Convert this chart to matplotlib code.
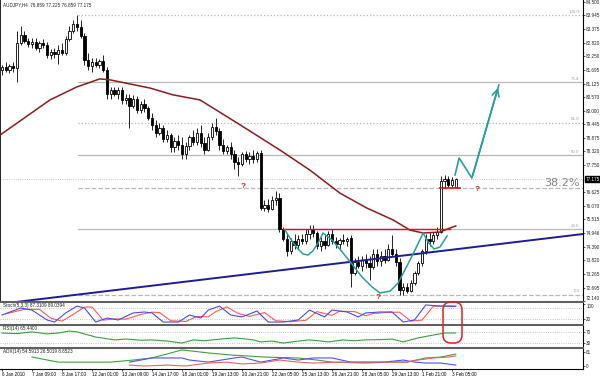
import matplotlib
matplotlib.use("Agg")
import matplotlib.pyplot as plt
from matplotlib.patches import FancyBboxPatch
from matplotlib.transforms import IdentityTransform, blended_transform_factory
import numpy as np

plt.rcParams["font.family"] = ["Liberation Sans", "DejaVu Sans"]

# AUDJPY H4, bar 0 = 6 Jan 2010
opens = [81.70, 81.80, 81.70, 81.85, 81.75, 82.80, 83.15, 82.90, 82.75, 82.85,
         82.60, 82.80, 82.70, 82.30, 82.45, 82.35, 82.50, 82.40, 82.95, 83.30,
         83.60, 83.45, 83.10, 82.10, 81.85, 82.00, 81.90, 82.05, 81.70, 80.70,
         80.85, 80.70, 80.85, 80.45, 80.55, 80.20, 80.50, 80.05, 80.30, 80.10,
         79.70, 79.40, 79.10, 79.30, 78.85, 79.00, 78.50, 78.75, 78.60, 78.20,
         78.55, 78.90, 78.70, 79.10, 78.65, 78.40, 78.90, 79.35, 79.15, 78.60,
         78.35, 78.50, 78.20, 77.90, 77.80, 78.20, 78.00, 78.15, 78.00, 78.25,
         76.00, 76.10, 75.95, 76.30, 76.40, 75.10, 74.70, 74.20, 74.60, 74.45,
         74.70, 74.60, 74.90, 75.10, 74.95, 74.40, 74.60, 74.45, 74.90, 74.60,
         74.50, 74.65, 74.60, 74.75, 73.30, 73.75, 73.60, 73.85, 73.70, 73.55,
         74.10, 73.80, 74.00, 73.85, 74.30, 74.10, 73.75, 72.60, 72.70, 72.55,
         72.90, 73.30, 73.70, 74.20, 74.70, 74.60, 74.85, 75.00, 77.10, 77.20,
         76.95, 76.859]
highs = [81.90, 82.00, 81.95, 82.00, 83.30, 83.50, 83.30, 83.00, 83.00, 83.00,
         82.90, 82.95, 82.85, 82.55, 82.60, 82.70, 82.80, 83.10, 83.50, 83.75,
         83.945, 83.75, 83.20, 82.40, 82.20, 82.20, 82.15, 82.30, 81.80, 81.00,
         81.00, 81.00, 81.00, 80.70, 80.70, 80.65, 80.60, 80.40, 80.50, 80.20,
         79.90, 79.60, 79.50, 79.40, 79.20, 79.10, 78.90, 79.00, 78.90, 78.70,
         79.00, 79.20, 79.30, 79.40, 78.90, 79.10, 79.50, 79.70, 79.30, 78.85,
         78.60, 78.70, 78.40, 78.10, 78.30, 78.35, 78.30, 78.40, 78.35, 78.40,
         76.30, 76.35, 76.50, 76.70, 76.60, 75.20, 74.90, 74.75, 74.90, 74.85,
         74.90, 75.10, 75.30, 75.30, 75.05, 74.80, 74.85, 75.05, 75.10, 74.80,
         74.75, 74.90, 74.80, 74.85, 73.90, 74.00, 74.00, 74.10, 74.00, 74.30,
         74.30, 74.20, 74.30, 74.50, 74.85, 74.30, 73.90, 72.90, 72.90, 73.00,
         73.40, 73.80, 74.30, 74.90, 75.00, 75.00, 75.20, 77.30, 77.35, 77.30,
         77.25, 77.225]
lows = [81.50, 81.60, 81.55, 81.60, 81.20, 82.70, 82.80, 82.65, 82.60, 82.50,
        82.45, 82.60, 82.20, 82.15, 82.20, 81.95, 82.30, 82.30, 82.90, 83.20,
        83.30, 83.00, 81.90, 81.70, 81.60, 81.80, 81.75, 81.60, 80.50, 80.50,
        80.60, 80.50, 80.30, 80.30, 79.30, 80.10, 79.90, 79.90, 79.95, 79.60,
        79.20, 78.90, 79.00, 78.70, 78.70, 78.30, 78.30, 78.40, 78.00, 78.00,
        78.40, 78.60, 78.60, 78.50, 78.20, 78.35, 78.80, 79.00, 78.40, 78.20,
        78.20, 78.00, 77.60, 77.30, 77.70, 77.90, 77.80, 77.85, 77.90, 75.90,
        75.85, 75.80, 75.90, 76.10, 75.00, 74.60, 74.00, 74.10, 74.30, 74.30,
        74.50, 74.50, 74.70, 74.80, 74.30, 74.20, 74.30, 74.40, 74.50, 74.35,
        74.30, 74.50, 74.40, 72.70, 73.20, 73.50, 73.40, 73.50, 73.00, 73.45,
        73.60, 73.60, 73.70, 73.80, 74.00, 73.60, 72.40, 72.40, 72.45, 72.50,
        72.80, 73.20, 73.60, 74.10, 74.40, 74.50, 74.70, 74.95, 76.80, 76.85,
        76.85, 76.859]
closes = [81.80, 81.70, 81.85, 81.75, 82.80, 83.15, 82.90, 82.75, 82.85, 82.60,
          82.80, 82.70, 82.30, 82.45, 82.35, 82.50, 82.40, 82.95, 83.30, 83.60,
          83.45, 83.10, 82.10, 81.85, 82.00, 81.90, 82.05, 81.70, 80.70, 80.85,
          80.70, 80.85, 80.45, 80.55, 80.20, 80.50, 80.05, 80.30, 80.10, 79.70,
          79.40, 79.10, 79.30, 78.85, 79.00, 78.50, 78.75, 78.60, 78.20, 78.55,
          78.90, 78.70, 79.10, 78.65, 78.40, 78.90, 79.35, 79.15, 78.60, 78.35,
          78.50, 78.20, 77.90, 77.80, 78.20, 78.00, 78.15, 78.00, 78.25, 76.00,
          76.10, 75.95, 76.30, 76.40, 75.10, 74.70, 74.20, 74.60, 74.45, 74.70,
          74.60, 74.90, 75.10, 74.95, 74.40, 74.60, 74.45, 74.90, 74.60, 74.50,
          74.65, 74.60, 74.70, 73.30, 73.75, 73.60, 73.85, 73.70, 73.55, 74.10,
          73.80, 74.00, 73.85, 74.30, 74.10, 73.75, 72.60, 72.70, 72.55, 72.90,
          73.30, 73.70, 74.20, 74.70, 74.60, 74.85, 75.00, 77.10, 77.20, 76.95,
          77.15, 77.175]

# moving average (drawn points: bar index, price)
ma_x = [-0.5, 12.8, 20.0, 26.1, 28.8, 39.5, 45.6, 52.8, 63.5, 74.1, 82.1, 90.1,
        97.3, 104.3, 108.8, 112.3, 116.8, 119.5, 121.0]
ma_y = [79.00, 80.45, 80.99, 81.32, 81.28, 80.94, 80.66, 80.45, 79.42, 78.38,
        77.55, 76.60, 75.98, 75.49, 75.07, 74.95, 74.99, 75.16, 75.24]

# support trendline and neckline
trend_x = [-0.5, 155.0]
trend_y = [72.02, 74.91]
neck_x = [74.9, 119.5]
neck_y = [75.11, 75.11]
short_x = [116.8, 122.1]
short_y = [76.81, 76.81]

# cup shapes and projected path
cup_x = [75.5, 76.8, 78.7, 80.3, 81.6, 82.9, 84.3, 85.6, 88.0, 90.7, 93.3, 96.0,
         98.7, 100.8, 103.5, 105.6, 107.7, 109.9, 112.3, 113.6, 115.2, 116.8, 118.7]
cup_y = [75.07, 74.74, 74.33, 74.08, 74.04, 74.21, 74.54, 74.95, 74.66, 74.17,
         73.67, 73.13, 72.72, 72.47, 72.55, 72.88, 73.50, 74.17, 74.95, 74.58,
         74.29, 74.37, 74.83]
path_x = [120.8, 121.9, 125.3, 132.5]
path_y = [77.35, 78.05, 77.22, 81.07]

# fibonacci retracement
fib_names = ["100.0", "76.4", "61.8", "50.0", "38.2", "23.6", "0.0"]
fib_prices = [83.945, 81.19, 79.51, 78.17, 76.80, 75.11, 72.40]
fib_styles = [":", "-", ":", "-", "--", "-", "--"]

qmarks_x = [64.3, 100.3, 126.7]
qmarks_y = [76.89, 72.30, 76.73]

price_ticks = [84.500, 83.945, 83.375, 82.820, 82.250, 81.695, 81.125, 80.570,
               80.000, 79.445, 78.875, 78.320, 77.750, 76.625, 76.070, 75.515,
               74.946, 74.390, 73.820, 73.265, 72.695, 72.140]
bid = 77.175

# stochastic
st_main_x = [0, 5, 8, 12, 14, 17, 20, 22, 25, 28, 31, 35, 38, 40, 43, 47, 50, 53, 55, 58,
             61, 64, 68, 71, 75, 79, 82, 86, 88, 92, 95, 97, 101, 104, 107, 110, 113, 117, 121]
st_main = [42, 79, 68, 16, 5, 53, 89, 79, 5, 26, 16, 53, 58, 53, 5, 5, 42, 26, 68, 89,
           42, 32, 63, 5, 5, 16, 68, 32, 68, 58, 32, 53, 58, 58, 5, 16, 95, 89, 87]
st_sig_x = [1, 6, 10, 13, 16, 19, 22, 24, 27, 30, 33, 37, 40, 42, 45, 49, 52, 55, 57, 60,
            63, 66, 70, 73, 77, 81, 84, 88, 90, 94, 97, 99, 103, 106, 109, 112, 115, 119, 121]
st_sig = [48, 72, 72, 25, 10, 45, 84, 84, 15, 22, 20, 45, 57, 55, 12, 8, 35, 32, 60, 85,
          50, 35, 55, 12, 7, 14, 60, 40, 62, 60, 38, 50, 56, 57, 10, 15, 88, 90, 89]

# rsi
rsi_x = [0, 4, 8, 12, 15, 18, 20, 25, 28, 30, 33, 37, 40, 44, 48, 51, 54, 56, 60, 62,
         65, 67, 69, 72, 75, 79, 82, 85, 87, 91, 94, 97, 101, 104, 107, 111, 115, 118, 121]
rsi = [65, 63, 69, 62, 65, 72, 69, 51, 45, 41, 44, 40, 41, 37, 30, 41, 38, 41, 46, 48,
       44, 41, 34, 37, 30, 37, 41, 37, 34, 41, 38, 41, 42, 44, 34, 48, 58, 65, 65]

# adx, +di, -di
adx_x = [8, 15, 29, 35, 40, 48, 55, 61, 70, 79, 84, 88, 97, 104, 108, 113, 117, 121]
adx = [39, 17, 17, 26, 35, 70, 57, 48, 39, 35, 26, 17, 13, 17, 17, 35, 39, 52]
pdi_x = [34, 40, 48, 50, 55, 62, 64, 69, 75, 79, 83, 88, 93, 102, 107, 110, 113, 117, 121]
pdi = [17, 35, 35, 26, 17, 35, 39, 17, 35, 26, 35, 35, 17, 17, 26, 17, 13, 13, 4]
mdi_x = [34, 38, 44, 49, 55, 60, 64, 69, 74, 79, 83, 90, 97, 104, 108, 111, 115, 119, 121]
mdi = [4, 0, 4, 0, 13, 17, 9, 13, 26, 17, 13, 17, 17, 17, 17, 26, 35, 39, 44]

time_pos = [0, 8, 16, 24, 32, 40, 48, 56, 64, 72, 80, 88, 96, 104, 112, 120]
time_labels = ["6 Jan 2010", "7 Jan 09:00", "8 Jan 17:00", "12 Jan 01:00", "13 Jan 09:00",
               "14 Jan 17:00", "18 Jan 01:00", "19 Jan 13:00", "20 Jan 21:00", "22 Jan 05:00",
               "25 Jan 13:00", "26 Jan 21:00", "28 Jan 05:00", "29 Jan 13:00",
               "1 Feb 21:00", "3 Feb 05:00"]

W, H = 600, 376
fig = plt.figure(figsize=(6, 3.76), dpi=100)
fig.patch.set_facecolor("white")


def box(top, bottom, left=0, right=583):
    return [left / W, 1 - bottom / H, (right - left) / W, (bottom - top) / H]


ax = fig.add_axes(box(0, 301))
ax_st = fig.add_axes(box(302, 323.5), sharex=ax)
ax_rsi = fig.add_axes(box(325, 346.5), sharex=ax)
ax_adx = fig.add_axes(box(348, 369), sharex=ax)
axes = [ax, ax_st, ax_rsi, ax_adx]

fs = 3.3
for a in axes:
    a.set_facecolor("white")
    a.yaxis.tick_right()
    a.tick_params(axis="y", direction="out", length=1.5, width=0.5, labelsize=fs, pad=0.8, colors="#202020")
    a.tick_params(axis="x", bottom=False, labelbottom=False)
    for s in ["left", "top", "bottom"]:
        a.spines[s].set_visible(False)
    a.spines["right"].set_linewidth(0.8)
for a in [ax_st, ax_rsi, ax_adx]:
    a.spines["top"].set_visible(True)
    a.spines["top"].set_color("#606060")
    a.spines["top"].set_linewidth(1.5)
ax_adx.spines["bottom"].set_visible(True)
ax_adx.spines["bottom"].set_linewidth(0.8)
ax.spines["left"].set_visible(True)
ax.spines["left"].set_linewidth(0.6)

ax.set_xlim(-0.53, 154.93)
ax.set_ylim(72.14, 84.58)

# candles
o = np.array(opens)
c = np.array(closes)
idx = np.arange(len(c))
up = c >= o
ax.vlines(idx, lows, highs, color="black", lw=0.6, zorder=4)
ax.bar(idx[up], (c - o)[up], bottom=o[up], width=0.6, color="white", edgecolor="black", lw=0.6, zorder=5)
ax.bar(idx[~up], (o - c)[~up], bottom=c[~up], width=0.6, color="black", edgecolor="black", lw=0.6, zorder=5)

# fib levels
for name, p, ls in zip(fib_names, fib_prices, fib_styles):
    ax.plot([20.3, 155], [p, p], color="#b8b8b8", lw=0.9, ls=ls, zorder=1)
    if name != "38.2":
        ax.text(154, p + 0.05, name, fontsize=3.2, color="#a0a0a0", ha="right", va="bottom", zorder=2)
ax.text(154, 77.02, "38.2%", fontsize=8, color="#808080", ha="right", va="center", zorder=6,
        family="DejaVu Sans")

# bid line
ax.axhline(bid, color="#b0b0b0", lw=0.6, ls=":", zorder=1)

ax.plot(ma_x, ma_y, color="#8b1c1c", lw=1.1, zorder=6)
ax.plot(trend_x, trend_y, color="#1c1c96", lw=1.4, zorder=6)
ax.plot(neck_x, neck_y, color="#e01010", lw=1.0, zorder=6)
ax.plot(short_x, short_y, color="#e01010", lw=1.2, zorder=6)
ax.plot(cup_x, cup_y, color="#2a9d9d", lw=1.1, zorder=7)
ax.plot(path_x, path_y, color="#2a9d9d", lw=1.2, zorder=7)
ax.annotate("", xy=(path_x[-1], path_y[-1]), xytext=(path_x[-2], path_y[-2]),
            arrowprops=dict(arrowstyle="->,head_length=0.5,head_width=0.25", color="#2a9d9d", lw=1.2),
            zorder=7)
for qx, qy in zip(qmarks_x, qmarks_y):
    ax.text(qx, qy, "?", color="#e02020", fontsize=6, fontweight="bold", ha="center", va="center", zorder=8)

ax.set_yticks(price_ticks)
ax.set_yticklabels(["%.3f" % t for t in price_ticks])
ax.get_yticklabels()[-1].set_va("bottom")
tr = blended_transform_factory(ax.transAxes, ax.transData)
ax.text(1.004, bid, "%.3f" % bid, transform=tr, fontsize=fs, color="white", ha="left", va="center",
        bbox=dict(boxstyle="square,pad=0.15", fc="black", ec="black"), clip_on=False, zorder=9)
ax.text(0.005, 0.994, "AUDJPY,H4  76.859 77.225 76.859 77.175", transform=ax.transAxes,
        fontsize=fs, ha="left", va="top", color="#202020")

# stochastic panel
ax_st.set_ylim(-2.6, 110.5)
for lv in [80, 20]:
    ax_st.axhline(lv, color="#b0b0b0", lw=0.6, ls=":")
ax_st.plot(st_sig_x, st_sig, color="#ff5a5a", lw=0.8)
ax_st.plot(st_main_x, st_main, color="#4a4ae6", lw=0.8)
ax_st.set_yticks([100, 20])
ax_st.set_yticklabels(["100", "20"])
ax_st.get_yticklabels()[0].set_va("top")
ax_st.text(0.005, 0.97, "Stoch(5,3,3) 87.3109 89.0394", transform=ax_st.transAxes,
           fontsize=fs, ha="left", va="top", color="#202020")

# rsi panel
ax_rsi.set_ylim(18, 93)
for lv in [70, 30]:
    ax_rsi.axhline(lv, color="#b0b0b0", lw=0.6, ls=":")
ax_rsi.plot(rsi_x, rsi, color="#3c9c3c", lw=0.8)
ax_rsi.set_yticks([70, 30])
ax_rsi.text(0.005, 0.97, "RSI(14) 65.4400", transform=ax_rsi.transAxes,
            fontsize=fs, ha="left", va="top", color="#202020")

# adx panel
ax_adx.set_ylim(-13, 78.4)
ax_adx.plot(adx_x, adx, color="#3ca03c", lw=0.8)
ax_adx.plot(pdi_x, pdi, color="#5050f0", lw=0.8)
ax_adx.plot(mdi_x, mdi, color="#f06060", lw=0.8)
ax_adx.set_yticks([61, 0])
ax_adx.text(0.005, 0.97, "ADX(14) 54.5913 26.5019 8.6523", transform=ax_adx.transAxes,
            fontsize=fs, ha="left", va="top", color="#202020")

ax_adx.set_xticks(time_pos)
ax_adx.set_xticklabels(time_labels, ha="left")
ax_adx.tick_params(axis="x", bottom=True, labelbottom=True, direction="out", length=1.5,
                   width=0.5, labelsize=fs, pad=0.6)

# red rounded highlight over stochastic / rsi
hl = FancyBboxPatch((443, H - 343), 19, 41, boxstyle="round,pad=0,rounding_size=8",
                    fc="none", ec="#e02020", lw=1.1, transform=IdentityTransform())
fig.add_artist(hl)

fig.savefig("out.png", dpi=100, facecolor="white")
